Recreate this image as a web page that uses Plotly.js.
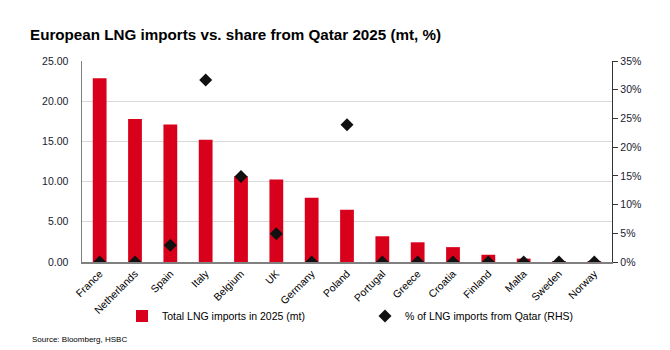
<!DOCTYPE html>
<html>
<head>
<meta charset="utf-8">
<script src="https://cdn.plot.ly/plotly-3.0.1.min.js"></script>
<style>html,body{margin:0;padding:0;background:#fff;}#chart{width:670px;height:350px;}</style>
</head>
<body>
<div id="chart"></div>
<script>
const countries = ["France","Netherlands","Spain","Italy","Belgium","UK","Germany","Poland","Portugal","Greece","Croatia","Finland","Malta","Sweden","Norway"];
const totalImports = [22.85, 17.8, 17.1, 15.2, 10.65, 10.25, 8.0, 6.5, 3.2, 2.45, 1.85, 0.9, 0.42, 0.12, 0.12];
const qatarShare = [0, 0, 2.9, 31.7, 14.9, 4.9, 0, 23.9, 0, 0, 0, 0, 0, 0, 0];
const leftTicks = [0, 5, 10, 15, 20, 25];
const rightTicks = [0, 5, 10, 15, 20, 25, 30, 35];
const rightTickText = rightTicks.map(v => v + '%');

const FONT = "'Liberation Sans Narrow', 'Arial Narrow', 'Liberation Sans', Arial, sans-serif";

const traces = [
  {
    type: 'bar', x: countries, y: totalImports,
    name: 'Total LNG imports in 2025 (mt)',
    marker: {color: '#D9001B'}, width: 0.39, yaxis: 'y'
  },
  {
    type: 'scatter', mode: 'markers', x: countries, y: qatarShare,
    name: '% of LNG imports from Qatar (RHS)',
    marker: {symbol: 'diamond', color: '#111', size: 10}, yaxis: 'y2'
  }
];

const layout = {
  width: 670, height: 350,
  margin: {l: 82, r: 58, t: 61, b: 88},
  paper_bgcolor: '#fff', plot_bgcolor: '#fff',
  font: {family: FONT, size: 10, color: '#1a1a2e'},
  title: {
    text: '<b>European LNG imports vs. share from Qatar 2025 (mt, %)</b>',
    font: {family: "'Liberation Sans', Arial, sans-serif", size: 15.2, color: '#000'},
    x: 30/670, xanchor: 'left', xref: 'container',
    y: 1 - 35/350, yanchor: 'middle', yref: 'container'
  },
  xaxis: {
    tickangle: -45, showgrid: false, showline: true, linecolor: '#808080', linewidth: 1.5,
    ticks: '', tickfont: {size: 10.5, color: '#000'}, range: [-0.5, 14.5]
  },
  yaxis: {
    range: [0, 25], tickvals: leftTicks, tickformat: '.2f',
    showgrid: true, gridcolor: '#d9d9d9', gridwidth: 1,
    showline: true, linecolor: '#808080', linewidth: 1.5, ticks: '',
    ticklabelstandoff: 10,
    zeroline: false, tickfont: {size: 10.5, color: '#1a1a2e'}
  },
  yaxis2: {
    overlaying: 'y', side: 'right', range: [0, 35],
    tickmode: 'array', tickvals: rightTicks, ticktext: rightTickText,
    showgrid: false, showline: true, linecolor: '#333', linewidth: 1.2,
    ticks: 'outside', ticklen: 5, tickcolor: '#333', zeroline: false,
    tickfont: {size: 10.5, color: '#1a1a2e'}
  },
  showlegend: true,
  legend: {
    orientation: 'h', xref: 'container', yref: 'container',
    x: 122/670, xanchor: 'left', y: 1 - 316/350, yanchor: 'middle',
    font: {size: 10.5, color: '#000'}, entrywidth: 198, itemwidth: 30,
    bgcolor: 'rgba(0,0,0,0)'
  },
  annotations: [{
    text: 'Source: Bloomberg, HSBC', xref: 'paper', yref: 'paper',
    x: -52/530, xanchor: 'left', y: (262-339)/201, yanchor: 'middle',
    showarrow: false, font: {size: 8, color: '#000'}
  }]
};

Plotly.newPlot('chart', traces, layout, {displayModeBar: false, staticPlot: true});
</script>
</body>
</html>
